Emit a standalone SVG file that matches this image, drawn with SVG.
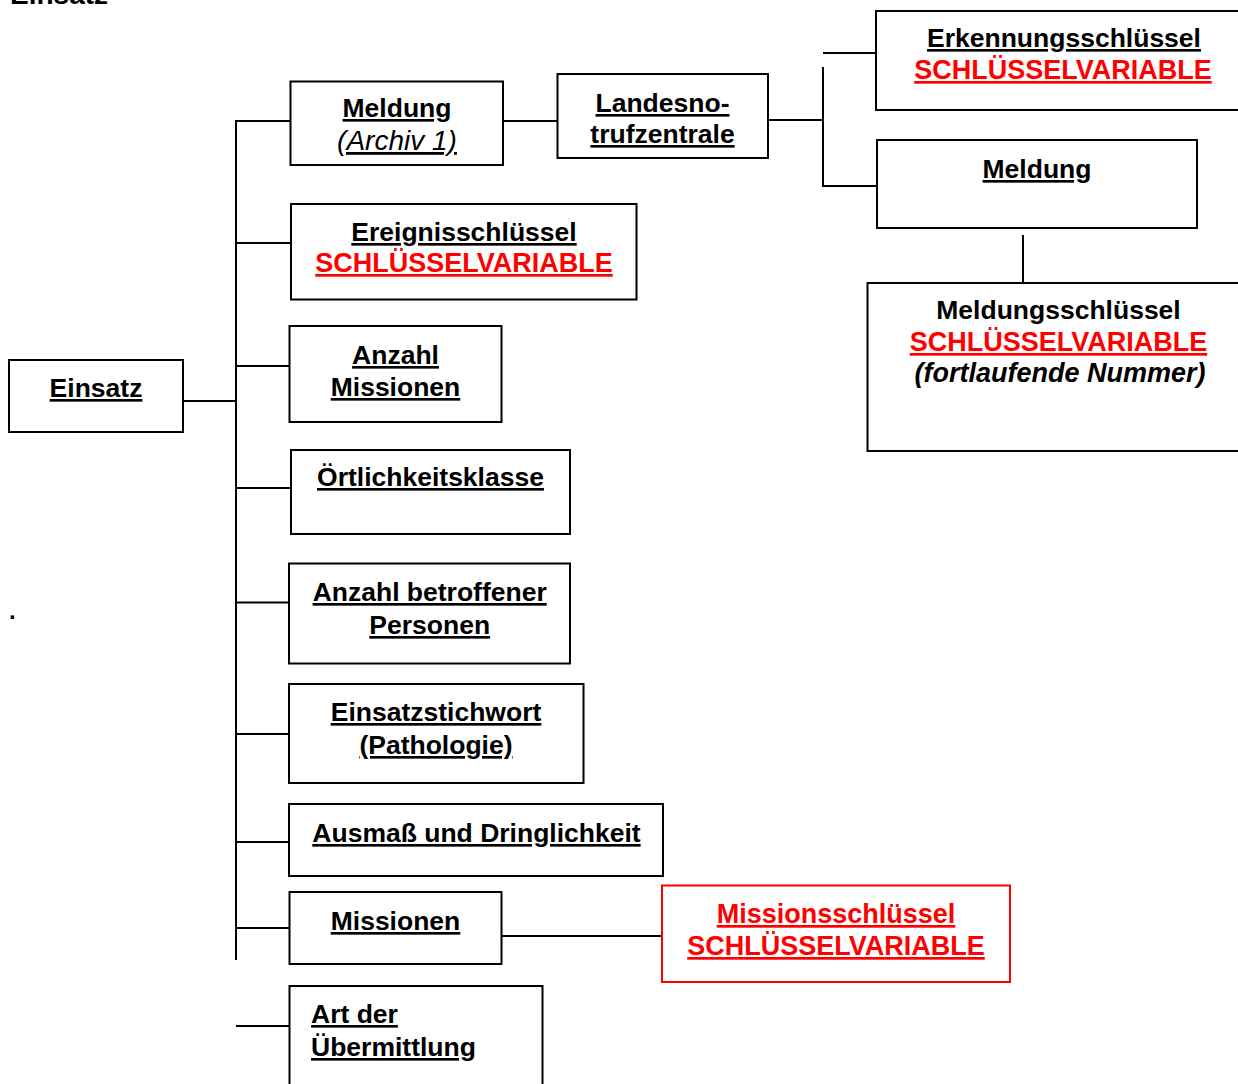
<svg xmlns="http://www.w3.org/2000/svg" width="1238" height="1084" viewBox="0 0 1238 1084">
  <style>
    .box { fill: #ffffff; stroke: #000000; stroke-width: 2; }
    .rbox { fill: #ffffff; stroke: #ff0000; stroke-width: 2; }
    .ln { stroke: #000000; stroke-width: 2; fill: none; }
    text { font-family: "Liberation Sans", Arial, sans-serif; font-size: 26.5px; font-weight: bold; fill: #000000; }
    .c { text-anchor: middle; }
    .u { text-decoration: underline; }
    .red { fill: #ff0000; font-size: 27px; }
    .it { font-style: italic; font-weight: normal; font-size: 28px; }
    .bi { font-style: italic; font-weight: bold; font-size: 27px; }
  </style>

  <!-- page heading -->
  <text x="10" y="4" style="font-size:28px">Einsatz</text>
  <text x="9" y="619" style="font-size:24px">.</text>

  <!-- connectors -->
  <g id="connectors">
    <line class="ln" x1="183" y1="401" x2="236" y2="401"/>
    <line class="ln" x1="236" y1="120" x2="236" y2="960"/>
    <line class="ln" x1="235" y1="121" x2="291" y2="121"/>
    <line class="ln" x1="236" y1="243" x2="291" y2="243"/>
    <line class="ln" x1="236" y1="366" x2="290" y2="366"/>
    <line class="ln" x1="236" y1="488" x2="291" y2="488"/>
    <line class="ln" x1="236" y1="602.5" x2="289" y2="602.5"/>
    <line class="ln" x1="236" y1="734" x2="289" y2="734"/>
    <line class="ln" x1="236" y1="842" x2="289" y2="842"/>
    <line class="ln" x1="236" y1="928" x2="290" y2="928"/>
    <line class="ln" x1="236" y1="1026" x2="290" y2="1026"/>
    <line class="ln" x1="503" y1="121" x2="558" y2="121"/>
    <line class="ln" x1="768" y1="120" x2="822" y2="120"/>
    <line class="ln" x1="823" y1="67" x2="823" y2="187"/>
    <line class="ln" x1="823" y1="53" x2="876" y2="53"/>
    <line class="ln" x1="822" y1="186" x2="877" y2="186"/>
    <line class="ln" x1="1023" y1="235" x2="1023" y2="283"/>
    <line class="ln" x1="501.5" y1="936" x2="662" y2="936"/>
  </g>

  <g id="einsatz">
    <rect class="box" x="9" y="360" width="174" height="72"/>
    <text class="c u" x="96" y="397">Einsatz</text>
  </g>

  <g id="meldung-archiv">
    <rect class="box" x="290.5" y="81.5" width="212.5" height="83.5"/>
    <text class="c u" x="397" y="117">Meldung</text>
    <text class="c u it" x="397" y="150">(Archiv 1)</text>
  </g>

  <g id="landesnotrufzentrale">
    <rect class="box" x="557.5" y="74" width="210.5" height="84"/>
    <text class="c u" x="662.5" y="112">Landesno-</text>
    <text class="c u" x="662.5" y="143">trufzentrale</text>
  </g>

  <g id="erkennungsschluessel">
    <rect class="box" x="876" y="11" width="375" height="99"/>
    <text class="c u" x="1064" y="47">Erkennungsschlüssel</text>
    <text class="c u red" x="1063" y="79">SCHLÜSSELVARIABLE</text>
  </g>

  <g id="meldung">
    <rect class="box" x="877" y="140" width="320" height="88"/>
    <text class="c u" x="1037" y="178">Meldung</text>
  </g>

  <g id="meldungsschluessel">
    <rect class="box" x="867.5" y="283" width="383" height="168"/>
    <text class="c" x="1058.5" y="319">Meldungsschlüssel</text>
    <text class="c u red" x="1058.5" y="351">SCHLÜSSELVARIABLE</text>
    <text class="c bi" x="1060" y="382">(fortlaufende Nummer)</text>
  </g>

  <g id="ereignisschluessel">
    <rect class="box" x="291" y="204" width="345.5" height="95.5"/>
    <text class="c u" x="464" y="241">Ereignisschlüssel</text>
    <text class="c u red" x="464" y="272">SCHLÜSSELVARIABLE</text>
  </g>

  <g id="anzahl-missionen">
    <rect class="box" x="289.5" y="326" width="212" height="96"/>
    <text class="c u" x="395.5" y="364">Anzahl</text>
    <text class="c u" x="395.5" y="396">Missionen</text>
  </g>

  <g id="oertlichkeitsklasse">
    <rect class="box" x="291" y="450" width="279" height="84"/>
    <text class="c u" x="430.5" y="486">Örtlichkeitsklasse</text>
  </g>

  <g id="anzahl-personen">
    <rect class="box" x="289" y="563.5" width="281" height="100"/>
    <text class="c u" x="429.7" y="601">Anzahl betroffener</text>
    <text class="c u" x="429.7" y="634">Personen</text>
  </g>

  <g id="einsatzstichwort">
    <rect class="box" x="289" y="684" width="294.5" height="99"/>
    <text class="c u" x="436" y="721">Einsatzstichwort</text>
    <text class="c u" x="436" y="754">(Pathologie)</text>
  </g>

  <g id="ausmass">
    <rect class="box" x="289" y="804" width="374" height="72"/>
    <text class="c u" x="476.5" y="842">Ausmaß und Dringlichkeit</text>
  </g>

  <g id="missionen">
    <rect class="box" x="289.5" y="892" width="212" height="72"/>
    <text class="c u" x="395.5" y="930">Missionen</text>
  </g>

  <g id="missionsschluessel">
    <rect class="rbox" x="662" y="885.5" width="348" height="96.5"/>
    <text class="c u red" x="836" y="923">Missionsschlüssel</text>
    <text class="c u red" x="836" y="955">SCHLÜSSELVARIABLE</text>
  </g>

  <g id="art-der-uebermittlung">
    <rect class="box" x="289.5" y="986" width="253" height="120"/>
    <text class="u" x="311" y="1023">Art der</text>
    <text class="u" x="311" y="1056">Übermittlung</text>
  </g>
</svg>
